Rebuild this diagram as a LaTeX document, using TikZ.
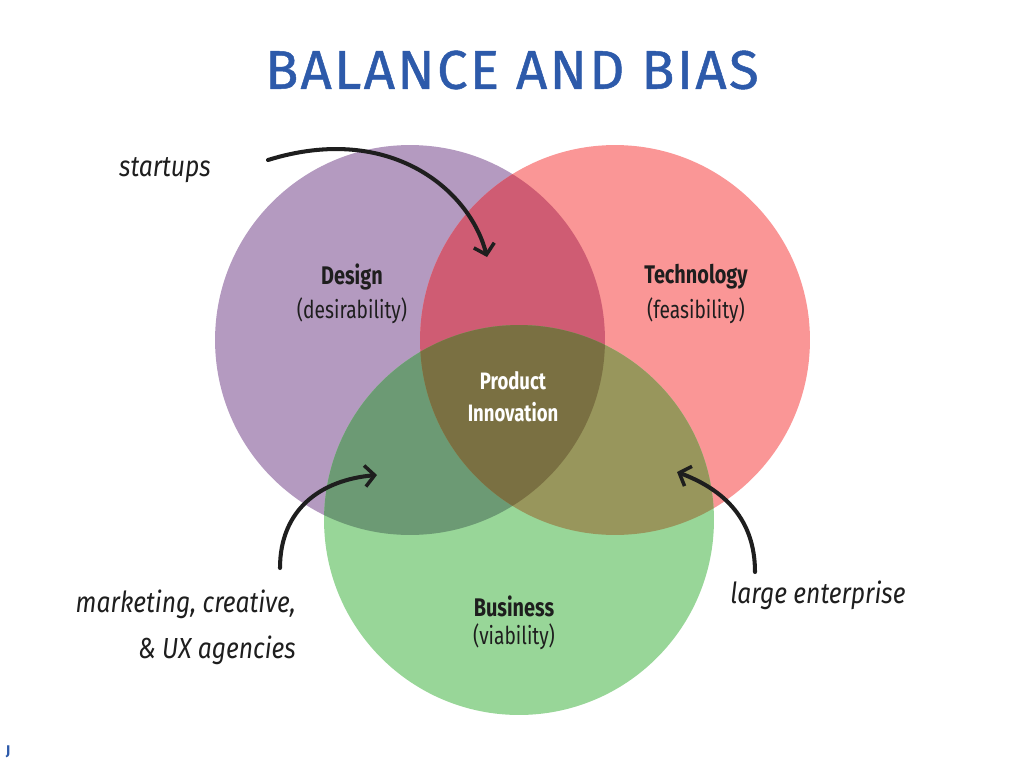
\documentclass[tikz,border=0pt]{standalone}
\usepackage{fontspec}
\setmainfont{Fira Sans}
\newfontfamily\condfont[FakeStretch=0.78]{Fira Sans}
\newfontfamily\titlefont[LetterSpace=4.5, FakeBold=0.9]{Fira Sans}
\newfontfamily\handfont[FakeStretch=0.85]{Fira Sans}
\usetikzlibrary{arrows.meta, positioning}
\definecolor{DS}{RGB}{180,154,192}
\definecolor{TC}{RGB}{250,150,150}
\definecolor{BS}{RGB}{152,214,152}
\definecolor{DT}{RGB}{207,92,115}
\definecolor{DB}{RGB}{108,154,116}
\definecolor{TB}{RGB}{152,150,92}
\definecolor{DTB}{RGB}{122,112,66}
\definecolor{TT}{RGB}{45,90,170}
\definecolor{INK}{RGB}{30,30,30}

\begin{document}
\begin{tikzpicture}[x=0.02cm, y=-0.02cm,
  title/.style={font=\titlefont\fontsize{31}{38}\selectfont, text=TT},
  head/.style={font=\condfont\bfseries\fontsize{14.5}{16}\selectfont, text=INK},
  subhead/.style={font=\condfont\fontsize{14}{16}\selectfont, text=INK},
  core/.style={font=\condfont\bfseries\fontsize{13.5}{18}\selectfont, text=white, align=center},
  hand/.style={font=\handfont\itshape\fontsize{16.5}{26}\selectfont, text=INK},
  arr/.style={-{Straight Barb[length=5.5pt, width=12pt, line width=2pt]}, line width=2.3pt, draw=INK, line cap=round}
]
\useasboundingbox (0,0) rectangle (1024,768);
\def\R{3.9cm}

% circle centres
\coordinate (cD) at (410,340);
\coordinate (cT) at (615,340);
\coordinate (cB) at (519,520);

% plain discs
\fill[DS] (cD) circle (\R);
\fill[TC] (cT) circle (\R);
\fill[BS] (cB) circle (\R);

% overlaps
\begin{scope}
  \clip (cD) circle (\R);
  \fill[DT] (cT) circle (\R);
  \fill[DB] (cB) circle (\R);
\end{scope}
\begin{scope}
  \clip (cT) circle (\R);
  \fill[TB] (cB) circle (\R);
  \clip (cD) circle (\R);
  \fill[DTB] (cB) circle (\R);
\end{scope}

% Title
\node[title] (ttl) at (512,70) {BALANCE AND BIAS};

% Labels
\node[head] (design) at (352,277) {Design};
\node[subhead] (desir) at (352,311) {(desirability)};
\node[head] (tech) at (696,277) {Technology};
\node[subhead] (feas) at (696,311) {(feasibility)};
\node[head] (busi) at (514,606) {Business};
\node[subhead] (viab) at (514,637) {(viability)};
\node[core] (prod) at (513,397) {Product\\Innovation};

% Notes
\node[hand] (startups) at (165,170) {startups};
\node[hand, align=right, anchor=east] (agency) at (302,627) {marketing, creative,\\\& UX agencies};
\node[hand] (large) at (818,595) {large enterprise};
\node[font=\bfseries\fontsize{8}{9}\selectfont, text=TT] (jmark) at (8,752) {J};

% Arrows
\coordinate (s0) at (268,160);
\coordinate (s1) at (487,257);
\coordinate (m0) at (280,568);
\coordinate (m1) at (377,475);
\coordinate (l0) at (755,572);
\coordinate (l1) at (677,472);
\draw[arr] (s0) .. controls (390,122) and (470,190) .. (s1);
\draw[arr] (m0) .. controls (280,510) and (320,480) .. (m1);
\draw[arr] (l0) .. controls (755,520) and (725,490) .. (l1);
\end{tikzpicture}
\end{document}
